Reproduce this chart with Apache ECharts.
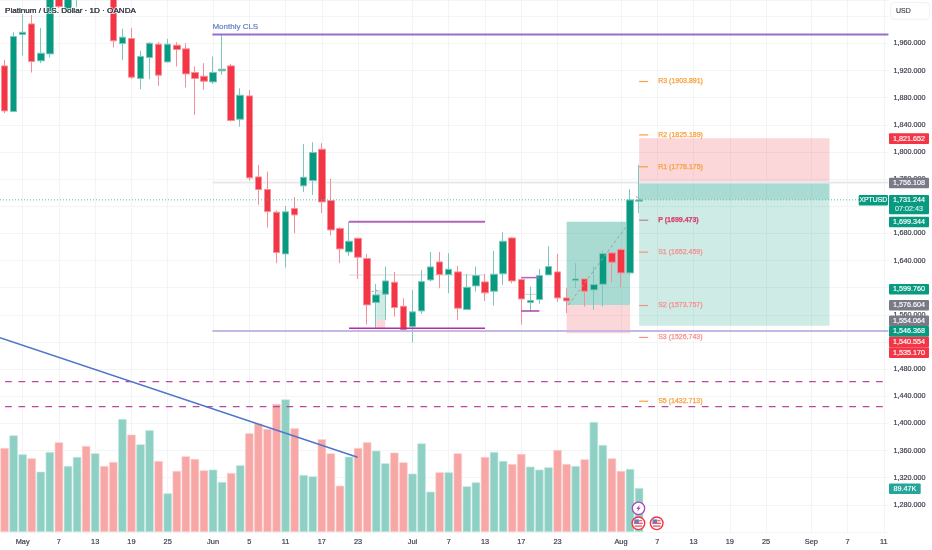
<!DOCTYPE html>
<html>
<head>
<meta charset="utf-8">
<title>Platinum / U.S. Dollar</title>
<script src="https://cdn.jsdelivr.net/npm/echarts@6/dist/echarts.min.js"></script>
<style>html,body{margin:0;padding:0;background:#fff}#c{width:932px;height:550px}</style>
</head>
<body>
<div id="c"></div>
<script>
// ---- candle values (index = daily slot from late April 2025)
const opens = [1926.9,1859.6,1973.1,1988.8,1934.3,1944.6,2042,2009.5,2036,2060,2040,2065,2045,1959.8,1967.2,1908.3,1939.2,1958.9,1932.8,1957.4,1952,1917.1,1911.7,1903.3,1919.6,1926.9,1848.3,1882.7,1763.3,1744.7,1711.3,1649.8,1716.7,1750.1,1757.9,1804.1,1728.5,1687.2,1652.8,1672.9,1643,1578.1,1590.4,1608.1,1572.7,1542.7,1565.8,1611.5,1638,1619.4,1623.3,1567.8,1602.7,1608.6,1594.8,1620.4,1673.4,1612,1578.1,1582.5,1618.9,1623.3,1585,1610.5,1613,1596.8,1605.1,1651.3,1656.2,1621.8,1727.5];
const closes = [1860.6,1970.2,1976.5,1933.3,1945.6,2038,2014.4,2050,2044,2040,2060,2042,1963.8,1969.2,1910.2,1940.7,1960.3,1913.2,1958.9,1951,1915.1,1908.3,1904.3,1917.1,1922,1846.4,1883.7,1761.9,1744.7,1712.2,1651.8,1711.8,1707.3,1762.8,1799.2,1726.5,1685.2,1657.2,1668.5,1644.9,1574.7,1589.4,1610,1570.8,1537.8,1564.4,1609,1630.7,1619.4,1627.2,1569.8,1600.7,1617.9,1592.4,1619.9,1668.5,1610,1583.5,1581.1,1617.9,1631.2,1585,1580.6,1613,1594.8,1604.6,1650.3,1637.6,1621.8,1729.4,1729.4];
const lows = [1857.2,1859.6,1942.2,1917.1,1930.9,1939.2,2012,2006,2013.4,2030,2032,2035,1954,1935.8,1907.3,1892.5,1907.3,1897.4,1931.8,1926,1895,1854.7,1891.6,1900.4,1913.7,1844.9,1837.5,1757.9,1722,1688.7,1636.1,1629.7,1680.3,1741.2,1736.8,1709.8,1676.9,1636.1,1646.9,1613,1545.7,1540.3,1552.6,1557.5,1536.9,1519.2,1561.4,1609,1599.2,1591.9,1552.6,1567.3,1594.3,1580.6,1573.7,1604.2,1606.6,1545.7,1564.9,1576.2,1618.9,1579.1,1562.4,1599.7,1572.2,1567.3,1572.2,1608.1,1600.7,1618.9,1709.8];
const highs = [1935.8,1976.5,2003.6,2002.1,1982.9,2045,2055,2062,2060,2068,2072,2075,2055,1981.5,1982.9,1949,1961.8,1961.8,1966.7,1961.8,1960.3,1926,1930.9,1940.7,1972.6,1929.9,1894,1891.6,1781,1771.2,1713.7,1720.6,1733.4,1812,1814.4,1813,1760.4,1689.1,1697.5,1672.9,1649.8,1605.6,1631.2,1623.3,1584.5,1596.8,1626.3,1652.8,1652.8,1650.8,1632.2,1620.4,1631.2,1620.4,1654.3,1681.8,1674.4,1614,1601.7,1627.7,1661.1,1649.8,1599.2,1636.1,1613,1632.2,1654.8,1651.8,1658.2,1745.2,1781];
const volumes = [170.9,196.6,158,149.8,122.7,162.7,182.4,134.2,152.6,174.9,160,134.2,142.4,229.8,198,178.3,206.8,144.4,78.6,124.1,153.9,148.5,125.4,126.8,101.7,120,135.6,200.7,220.4,209.5,260.4,269.8,210.9,115.9,113.2,188.5,160,94.2,153.2,170.9,182.4,165.4,139.7,161.4,141.7,118.7,180.3,82,121.4,121.4,160,92.9,101,152.6,162.7,144.4,138.3,158.7,132.9,126.8,131.5,166.8,138.3,134.2,147.8,223.7,177,149.8,124.1,128.1,89.47];

// ---- axes
const slotCount = 98;
const categories = Array.from({length: slotCount}, (_, i) => 'd' + i);
const tickSlots  = [2,6,10,14,18,23,27,31,35,39,45,49,53,57,61,68,72,76,80,84,89,93,97];
const tickLabels = ['May','7','13','19','25','Jun','5','11','17','23','Jul','7','13','17','23','Aug','7','13','19','25','Sep','7','11'];
const priceTicks = [1960,1920,1880,1840,1800,1760,1720,1680,1640,1600,1560,1520,1480,1440,1400,1360,1320,1280];

// ---- pivots
const pivotNames  = ['R3','R2','R1','P','S1','S2','S3','S5'];
const pivotValues = [1903.891,1825.189,1778.175,1699.473,1652.459,1573.757,1526.743,1432.713];

// ---- drawing levels (prices)
const monthlyLevel = 1973.1, lastPriceLine = 1729.5, lowerLevel = 1536.2, grayLevel = 1754.9;
const dashedLevels = [1461.6, 1424.8];
const rangeTop = 1697.3, rangeBottom = 1540.1, rangeMid = 1618.7;
const bracketTop = 1614.9, bracketBottom = 1565.7, bracketMid = 1590.3;
const trendPrices = [1526.4, 1350.2];
const smallBox = [1596.8, 1552.4, 1540];
const midBox = [1697.3, 1574.5, 1533];
const rightBox = [1820.2, 1754.9, 1729.5, 1544];

// ---- price tags
const tagTexts = ['1,821.652','1,756.108','1,699.344','1,599.760','1,576.604','1,554.064','1,546.368','1,540.554','1,535.170'];
const tagKinds = ['r','g','t','t','g','g','t','r','r'];
const tagTops  = [133.3,177.7,216.7,284,300,315.5,326,336.7,347.3];

const RED='#f23645', TEAL='#089981', GRAY='#787b86', FONT='"Liberation Sans", Arial, sans-serif';
const tagColor = {r:RED, g:GRAY, t:TEAL};
const candleData = opens.map((o,i)=>[o,closes[i],lows[i],highs[i]]);
const volumeData = volumes.map((v,i)=>({value:v,itemStyle:{color:closes[i]>=opens[i]?'#8fd0c5':'#f8a7a7',borderColor:closes[i]>=opens[i]?'#c8e8e2':'#fcd3d3',borderWidth:0.6}}));

const hit = idx => tickSlots.includes(idx);

function seg(api,x1,p1,x2,p2,style){
  const a=api.coord([x1,p1]), b=api.coord([x2,p2]);
  return {type:'line',shape:{x1:a[0],y1:a[1],x2:b[0],y2:b[1]},style:Object.assign({fill:null},style)};
}
function box(api,x1,x2,p1,p2,fill){
  const a=api.coord([x1,p1]), b=api.coord([x2,p2]);
  return {type:'rect',shape:{x:a[0],y:a[1],width:b[0]-a[0],height:b[1]-a[1]},style:{fill:fill}};
}
const END = 97.5, START = -0.5;

function renderBack(params,api){
  const kids=[];
  const tG='rgba(8,153,129,0.35)', tL='rgba(8,153,129,0.2)', pk='rgba(242,54,69,0.2)';
  kids.push(box(api,41,42,smallBox[0],smallBox[1],tL));
  kids.push(box(api,41,42,smallBox[1],smallBox[2],pk));
  kids.push(box(api,62,69,midBox[0],midBox[1],tG));
  kids.push(box(api,62,69,midBox[1],midBox[2],pk));
  kids.push(box(api,70,91,rightBox[0],rightBox[1],pk));
  kids.push(box(api,70,91,rightBox[1],rightBox[2],tG));
  kids.push(box(api,70,91,rightBox[2],rightBox[3],tL));
  kids.push(seg(api,22.93,grayLevel,END,grayLevel,{stroke:'#e9eaeb',lineWidth:2}));
  kids.push(seg(api,38,rangeMid,53,rangeMid,{stroke:'#e3e4e6',lineWidth:1.5}));
  kids.push(seg(api,57,bracketMid,59,bracketMid,{stroke:'#c9cacd',lineWidth:1}));
  return {type:'group',children:kids};
}
function renderFront(params,api){
  const kids=[];
  kids.push(seg(api,22.93,monthlyLevel,END,monthlyLevel,{stroke:'#9270cf',lineWidth:2}));
  kids.push(seg(api,START,lastPriceLine,END,lastPriceLine,{stroke:'#5cbcae',lineWidth:1,lineDash:[1,2]}));
  kids.push(seg(api,22.93,lowerLevel,END,lowerLevel,{stroke:'#c6b6e6',lineWidth:2}));
  dashedLevels.forEach(l=>kids.push(seg(api,0.06,l,END,l,{stroke:'#b8479f',lineWidth:1.4,lineDash:[6.7,6.7]})));
  kids.push(seg(api,38,rangeTop,53,rangeTop,{stroke:'#b562bd',lineWidth:2}));
  kids.push(seg(api,38,rangeBottom,53,rangeBottom,{stroke:'#b02fa6',lineWidth:1.5}));
  kids.push(seg(api,57,bracketTop,59,bracketTop,{stroke:'#b562bd',lineWidth:1.5}));
  kids.push(seg(api,57,bracketBottom,59,bracketBottom,{stroke:'#a845ad',lineWidth:1.5}));
  kids.push(seg(api,START,trendPrices[0],38.94,trendPrices[1],{stroke:'#4f74c9',lineWidth:1.4}));
  kids.push(seg(api,62.2,1574.5,68.7,1692.4,{stroke:'#9aa0a6',lineWidth:1,lineDash:[3,2.5]}));
  kids.push(seg(api,69.65,1734.3,70.3,1729.5,{stroke:'#9aa0a6',lineWidth:1,lineDash:[2,2]}));
  kids.push(seg(api,40.5,1594,41.35,1596.8,{stroke:'#9aa0a6',lineWidth:1,lineDash:[2,2]}));
  pivotNames.forEach((n,i)=>{
    const v=pivotValues[i];
    const col = n==='P' ? '#d8406f' : (n==='S1'||n==='S2'||n==='S3') ? '#f58f8f' : '#f99f3c';
    kids.push(seg(api,70,v,71,v,{stroke:n==='P'?'#b58398':col,lineWidth:1.2}));
    const p=api.coord([72.1,v]);
    kids.push({type:'text',style:{x:p[0],y:p[1],text:n+' ('+v.toFixed(3)+')',fill:col,stroke:col,lineWidth:0.25,font:(n==='P'?'bold ':'')+'7px '+FONT,textVerticalAlign:'middle',textAlign:'left'}});
  });
  const m=api.coord([22.93,monthlyLevel]);
  kids.push({type:'text',style:{x:m[0],y:m[1]-7.5,text:'Monthly CLS',fill:'#5f7fc4',stroke:'#5f7fc4',lineWidth:0.2,font:'8px '+FONT,textVerticalAlign:'middle',textAlign:'left'}});
  return {type:'group',children:kids};
}

function tagRect(x,y,w,h,fill){return {type:'rect',shape:{x,y,width:w,height:h,r:1},style:{fill},z:50};}
function tagText(x,y,t,fill,size,align){return {type:'text',x,y,style:{text:t,fill,stroke:fill,lineWidth:0.15,font:size+'px '+FONT,textAlign:align||'center',textVerticalAlign:'middle'},z:51};}
const graphics=[];
tagTexts.forEach((t,i)=>{
  graphics.push(tagRect(889,tagTops[i],40,tagTops[i+1]&&tagTops[i+1]-tagTops[i]<10.8?tagTops[i+1]-tagTops[i]:10.6,tagColor[tagKinds[i]]));
  graphics.push(tagText(909,tagTops[i]+5.4,t,'#fff',7.2));
});
graphics.push(tagRect(889,195,40,19.3,TEAL));
graphics.push(tagText(909,200.2,'1,731.244','#fff',7.2));
graphics.push(tagText(909,208.9,'07:02:43','#cfeee8',7.2));
graphics.push(tagRect(858.7,195,29.3,10.6,TEAL));
graphics.push(tagText(873.3,200.3,'XPTUSD','#fff',6.8));
graphics.push(tagRect(889,483.4,31.7,10.6,'#26a69a'));
graphics.push(tagText(904.8,488.8,'89.47K','#fff',7.2));
graphics.push({type:'rect',shape:{x:890.7,y:2.6,width:39,height:16.6,r:3},style:{fill:'#fff',stroke:'#eef0f2',lineWidth:1},z:50});
graphics.push(tagText(896,11,'USD','#3a3e4a',7,'left'));
graphics.push({type:'text',x:5,y:10.6,style:{text:'Platinum / U.S. Dollar · 1D · OANDA',fill:'#3f4351',font:'8.1px '+FONT,textVerticalAlign:'middle',stroke:'rgba(255,255,255,0.7)',lineWidth:2},z:60});
graphics.push({type:'text',x:5,y:10.6,style:{text:'Platinum / U.S. Dollar · 1D · OANDA',fill:'#3f4351',stroke:'#3f4351',lineWidth:0.2,font:'8.1px '+FONT,textVerticalAlign:'middle'},z:61});
// event markers
function flag(cx,cy){
  return {type:'group',x:cx,y:cy,z:55,children:[
    {type:'circle',shape:{r:6.3},style:{fill:'#fff',stroke:RED,lineWidth:1.4},z:55},
    {type:'rect',shape:{x:-4.4,y:-0.6,width:8.8,height:1.4},style:{fill:'#ee5b68'},z:56},
    {type:'rect',shape:{x:-3.8,y:2.1,width:7.6,height:1.4},style:{fill:'#ee5b68'},z:56},
    {type:'rect',shape:{x:-4.2,y:-3.9,width:4.7,height:3.8},style:{fill:'#5b7fc9'},z:57},
    {type:'rect',shape:{x:0.6,y:-3.2,width:3.2,height:1.2},style:{fill:'#ee5b68'},z:56}
  ]};
}
graphics.push({type:'group',x:638.5,y:508.3,z:55,children:[
  {type:'circle',shape:{r:6.2},style:{fill:'#fff',stroke:'#ab47bc',lineWidth:1.3},z:55},
  {type:'polygon',shape:{points:[[1.4,-3.6],[-2.2,0.6],[-0.2,0.6],[-1.4,3.6],[2.2,-0.8],[0.2,-0.8]]},style:{fill:'#ab47bc'},z:56}
]});
graphics.push(flag(638.4,523.3));
graphics.push(flag(656.7,523.3));

const axisText={color:'#3b3f4c',fontFamily:FONT,textBorderColor:'#3b3f4c',textBorderWidth:0.2};
const option={
  animation:false,
  backgroundColor:'#fff',
  graphic:graphics,
  grid:{left:-0.43,top:0,width:888.86,height:532,containLabel:false},
  xAxis:[
    {type:'category',data:categories,boundaryGap:true,
     axisLine:{show:false},axisTick:{show:false},
     axisLabel:Object.assign({interval:hit,formatter:(v,i)=>{const k=tickSlots.indexOf(i);return k>=0?tickLabels[k]:'';},
       fontSize:7.4,margin:6,hideOverlap:false,showMinLabel:true,showMaxLabel:true},axisText),
     splitLine:{show:true,interval:hit,alignWithLabel:true,lineStyle:{color:'#f3f4f6',width:1}}},
    {type:'value',min:START,max:END,show:false,splitLine:{show:false}}
  ],
  yAxis:[
    {type:'value',min:1240,max:2024,interval:40,position:'right',
     axisLine:{show:false},axisTick:{show:false},
     axisLabel:Object.assign({customValues:priceTicks,fontSize:7.2,margin:5,
       formatter:v=>v.toLocaleString('en-US',{minimumFractionDigits:3,maximumFractionDigits:3})},axisText),
     splitLine:{show:true,lineStyle:{color:'#f3f4f6',width:1}}},
    {type:'value',min:0,max:1082,show:false,splitLine:{show:false}}
  ],
  series:[
    {type:'bar',name:'Volume',xAxisIndex:0,yAxisIndex:1,data:volumeData,barWidth:8.4,z:2,silent:true},
    {type:'custom',name:'boxes',xAxisIndex:1,yAxisIndex:0,data:[[0,1700]],renderItem:renderBack,z:3,silent:true},
    {type:'candlestick',name:'XPTUSD',xAxisIndex:0,yAxisIndex:0,data:candleData,barWidth:7,z:4,silent:true,
     itemStyle:{color:TEAL,color0:RED,borderColor:'#7cc7ba',borderColor0:'#f78f98',borderWidth:1}},
    {type:'custom',name:'lines',xAxisIndex:1,yAxisIndex:0,data:[[0,1700]],renderItem:renderFront,z:5,silent:true}
  ]
};
echarts.init(document.getElementById('c'),null,{renderer:'canvas'}).setOption(option);
</script>
</body>
</html>
